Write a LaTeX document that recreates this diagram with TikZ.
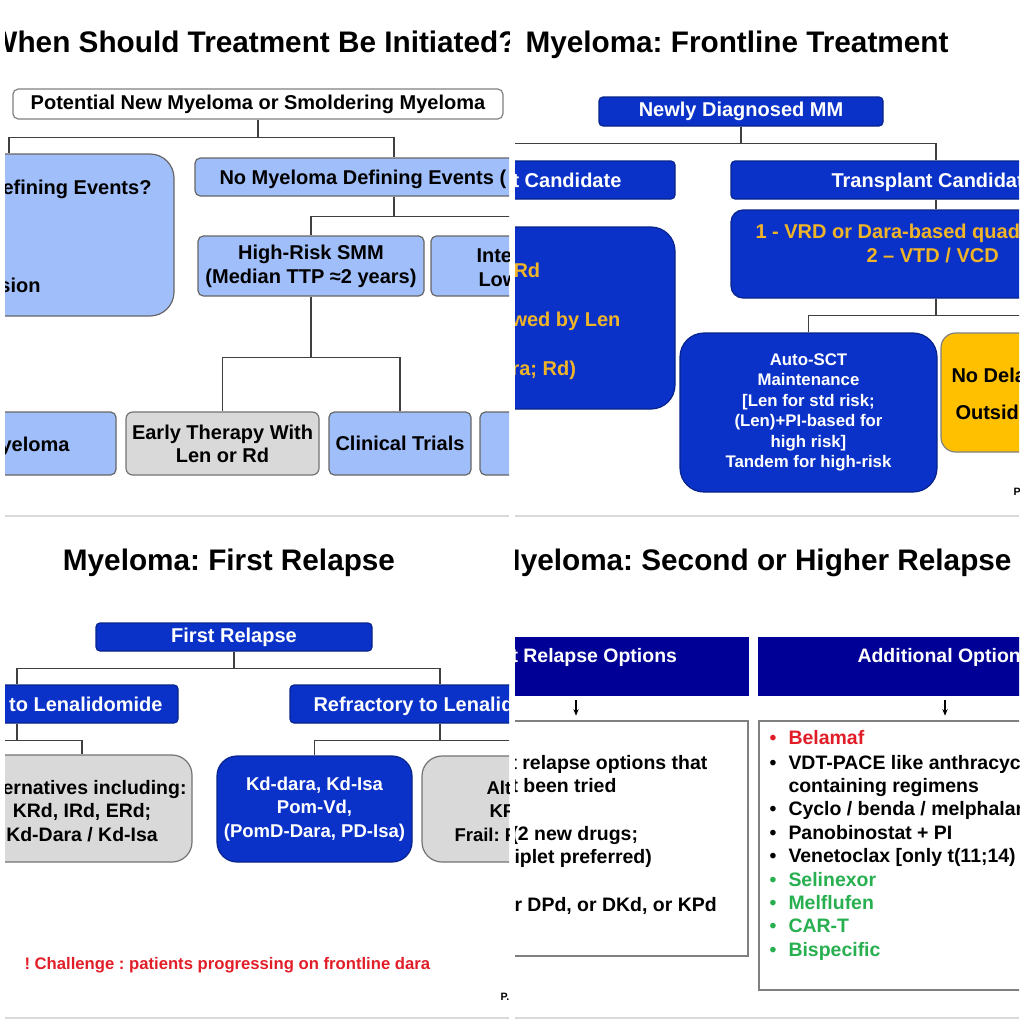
\documentclass[tikz,border=0pt]{standalone}
\usepackage{fontspec}
\setmainfont{Liberation Sans}
\usetikzlibrary{arrows.meta}
\frenchspacing

\definecolor{lblue}{RGB}{160,190,250}
\definecolor{dblue}{RGB}{10,50,200}
\definecolor{navy}{RGB}{0,0,150}
\definecolor{gold}{RGB}{240,180,40}
\definecolor{ambr}{RGB}{255,192,0}
\definecolor{lgray}{RGB}{217,217,217}
\definecolor{rd}{RGB}{225,30,40}
\definecolor{gr}{RGB}{40,175,80}

\tikzset{every picture/.style={line width=0.75pt}}
\tikzset{
  conn/.style={draw=black!75, line width=1.1pt},
  arrw/.style={draw=black, line width=0.9pt, -{Stealth[length=5pt,width=4pt]}, shorten <=3.5pt, shorten >=3.5pt},
  slidebox/.style={inner sep=0pt, line width=0.9pt, align=center, font=\fontsize{15}{18}\selectfont\bfseries},
  lbbox/.style={slidebox, fill=lblue, draw=black!60, rounded corners=4pt},
  dbbox/.style={slidebox, fill=dblue, draw=dblue!70!black, text=white, rounded corners=3pt},
  gybox/.style={slidebox, fill=lgray, draw=black!55, rounded corners=5pt},
  ambbox/.style={slidebox, fill=ambr, draw=black!50, rounded corners=11pt},
  wtbox/.style={slidebox, fill=white, draw=black!50},
  nvbox/.style={slidebox, fill=navy, draw=navy, text=white},
  txt/.style={inner sep=0pt, font=\fontsize{15}{18}\selectfont\bfseries},
  ttl/.style={inner sep=0pt, font=\fontsize{22.3}{26}\selectfont\bfseries},
  seam/.style={draw=black!15, line width=1.1pt},
}

\begin{document}
\begin{tikzpicture}[x=0.75pt,y=0.75pt,yscale=-1,xscale=1]
	\useasboundingbox (0,0) rectangle (1024,1024);

	%%%% top left slide
	\begin{scope}
	\clip (5,0) rectangle (509,512);
	% Text Node
	\node[ttl, anchor=base west] (ttla) at (-11,53) {When Should Treatment Be Initiated?};
	%Shape: Rectangle
	\node[wtbox, rounded corners=4pt, minimum width=367.5pt, minimum height=22.5pt] (pot) at (258,104) {Potential New Myeloma or Smoldering Myeloma};
	%Shape: Rounded Rect
	\node[lbbox, rounded corners=18pt, minimum width=247.5pt, minimum height=121.5pt] (mde) at (9,235) {};
	%Shape: Rounded Rect
	\node[lbbox, minimum width=298.5pt, minimum height=28.5pt] (nomde) at (394,177) {};
	%Shape: Rounded Rect
	\node[lbbox, minimum width=169.5pt, minimum height=45pt] (hrsmm) at (311,266) {High-Risk SMM\\(Median TTP ≈2 years)};
	%Shape: Rounded Rect
	\node[lbbox, minimum width=169.5pt, minimum height=45pt] (lrsmm) at (544,266) {};
	%Shape: Rounded Rect
	\node[lbbox, minimum width=162pt, minimum height=47.25pt] (actmm) at (8,443.5) {};
	%Shape: Rounded Rect
	\node[gybox, minimum width=144.75pt, minimum height=47.25pt, font=\fontsize{15}{17.3}\selectfont\bfseries] (early) at (222.5,443.5) {Early Therapy With\\Len or Rd};
	%Shape: Rounded Rect
	\node[lbbox, minimum width=106.5pt, minimum height=47.25pt] (trials) at (400,443.5) {Clinical Trials};
	%Shape: Rounded Rect
	\node[lbbox, minimum width=105pt, minimum height=47.25pt] (obs) at (550,443.5) {};

	%Straight Lines
	\draw[conn] (pot.south) -- ++(0,18) coordinate (ja) -| (mde.north);
	\draw[conn] (ja) -| (nomde.north);
	%Straight Lines
	\draw[conn] (nomde.south) -- ++(0,20) coordinate (jb) -| (hrsmm.north);
	\draw[conn] (jb) -| (lrsmm.north);
	%Straight Lines
	\draw[conn] (hrsmm.south) -- ++(0,61) coordinate (jc) -| (early.north);
	\draw[conn] (jc) -| (trials.north);

	% Text Node
	\node[txt, anchor=mid east] (mdea) at (152,191) {efining Events?};
	% Text Node
	\node[txt, anchor=mid east] (mdeb) at (41,289) {sion};
	% Text Node
	\node[txt, anchor=mid west] (nomdet) at (219,181) {No Myeloma Defining Events (};
	% Text Node
	\node[txt, anchor=mid west] (lrsmma) at (476,259) {Inte};
	% Text Node
	\node[txt, anchor=mid west] (lrsmmb) at (478,283) {Low};
	% Text Node
	\node[txt, anchor=mid east] (actmmt) at (70,448) {yeloma};
	\end{scope}

	%%%% top right slide
	\begin{scope}
	\clip (515,0) rectangle (1019,512);
	% Text Node
	\node[ttl, anchor=base west] (ttlb) at (525,53) {Myeloma: Frontline Treatment};
	%Shape: Rectangle
	\node[dbbox, minimum width=213pt, minimum height=21.75pt] (ndmm) at (741,111.5) {Newly Diagnosed MM};
	%Shape: Rectangle
	\node[dbbox, minimum width=307.5pt, minimum height=28.5pt] (ntc) at (470,180) {};
	%Shape: Rectangle
	\node[dbbox, minimum width=307.5pt, minimum height=28.5pt] (tc) at (936,180) {};
	%Shape: Rounded Rect
	\node[dbbox, rounded corners=18pt, minimum width=307.5pt, minimum height=136.5pt] (ntreg) at (470,318) {};
	%Shape: Rounded Rect
	\node[dbbox, rounded corners=9pt, minimum width=307.5pt, minimum height=66pt] (vrd) at (936,254) {};
	%Shape: Rounded Rect
	\node[dbbox, rounded corners=18pt, minimum width=192.75pt, minimum height=119.25pt, font=\fontsize{12.6}{15.3}\selectfont\bfseries] (asct) at (808.5,412.5) {Auto-SCT\\Maintenance\\{[}Len for std risk;\\(Len)+PI-based for\\high risk]\\Tandem for high-risk};
	%Shape: Rounded Rect
	\node[ambbox, minimum width=194.25pt, minimum height=89.25pt] (nodelay) at (1070.5,392.5) {};

	%Straight Lines
	\draw[conn] (ndmm.south) -- ++(0,17) coordinate (jd) -| (ntc.north);
	\draw[conn] (jd) -| (tc.north);
	%Straight Lines
	\draw[conn] (tc.south) -- (vrd.north);
	%Straight Lines
	\draw[conn] (vrd.south) -- ++(0,17) coordinate (je) -| (asct.north);
	\draw[conn] (je) -| (nodelay.north);

	% Text Node
	\node[txt, text=white, anchor=mid west] (ntct) at (512,184) {t Candidate};
	% Text Node
	\node[txt, text=white, anchor=mid west] (tct) at (831,184) {Transplant Candidat};
	% Text Node
	\node[txt, text=gold, anchor=mid west] (ntra) at (513,274) {Rd};
	% Text Node
	\node[txt, text=gold, anchor=mid west] (ntrb) at (511,323) {wed by Len};
	% Text Node
	\node[txt, text=gold, anchor=mid west] (ntrc) at (511,372) {ra; Rd)};
	% Text Node
	\node[txt, text=gold, anchor=mid west] (vrda) at (755,235) {1 - VRD or Dara-based quad};
	% Text Node
	\node[txt, text=gold, anchor=mid west] (vrdb) at (866,259) {2 – VTD / VCD};
	% Text Node
	\node[txt, anchor=mid west] (nda) at (951,379) {No Dela};
	% Text Node
	\node[txt, anchor=mid west] (ndb) at (955,416) {Outsid};
	% Text Node
	\node[txt, anchor=mid west, font=\fontsize{8}{9}\selectfont\bfseries] (pgb) at (1013,492) {P};
	\end{scope}

	%%%% bottom left slide
	\begin{scope}
	\clip (5,514) rectangle (509,1020);
	%Straight Lines
	\draw[seam] (5,516) -- (509,516);
	\draw[seam] (5,1018) -- (509,1018);
	% Text Node
	\node[ttl, anchor=base] (ttlc) at (229,570) {Myeloma: First Relapse};
	%Shape: Rectangle
	\node[dbbox, minimum width=207pt, minimum height=21pt] (frel) at (234,637) {First Relapse};
	%Shape: Rectangle
	\node[dbbox, minimum width=241.5pt, minimum height=28.5pt] (nlen) at (17,704) {};
	%Shape: Rectangle
	\node[dbbox, minimum width=225pt, minimum height=28.5pt] (rlen) at (440,704) {};
	%Shape: Rounded Rect
	\node[gybox, rounded corners=15pt, minimum width=165pt, minimum height=80.25pt] (altc) at (82,808.5) {};
	%Shape: Rounded Rect
	\node[dbbox, rounded corners=15pt, minimum width=146.25pt, minimum height=79.5pt, font=\fontsize{13.9}{17.6}\selectfont\bfseries] (kdd) at (314.5,809) {Kd-dara, Kd-Isa\\Pom-Vd,\\(PomD-Dara, PD-Isa)};
	%Shape: Rounded Rect
	\node[gybox, rounded corners=15pt, minimum width=214.5pt, minimum height=79.5pt] (altd) at (565,809) {};
	\coordinate (lfree) at (-120,755);

	%Straight Lines
	\draw[conn] (frel.south) -- ++(0,17) coordinate (jf) -| (nlen.north);
	\draw[conn] (jf) -| (rlen.north);
	%Straight Lines
	\draw[conn] (nlen.south) -- ++(0,17) coordinate (jg) -| (altc.north);
	\draw[conn] (jg) -| (lfree);
	%Straight Lines
	\draw[conn] (rlen.south) -- ++(0,17) coordinate (jh) -| (kdd.north);
	\draw[conn] (jh) -| (altd.north);

	% Text Node
	\node[txt, text=white, anchor=mid east] (nlent) at (163,708) {y to Lenalidomide};
	% Text Node
	\node[txt, text=white, anchor=mid west] (rlent) at (313,708) {Refractory to Lenalid};
	% Text Node
	\node[txt, anchor=mid east, font=\fontsize{14.6}{17}\selectfont\bfseries] (altca) at (187,791) {ernatives including:};
	% Text Node
	\node[txt, anchor=mid, font=\fontsize{14.6}{17}\selectfont\bfseries] (altcb) at (82,814) {KRd, IRd, ERd;};
	% Text Node
	\node[txt, anchor=mid, font=\fontsize{14.6}{17}\selectfont\bfseries] (altcc) at (82,838) {Kd-Dara / Kd-Isa};
	% Text Node
	\node[txt, anchor=mid west, font=\fontsize{13.9}{17}\selectfont\bfseries] (altda) at (486,791) {Alt};
	% Text Node
	\node[txt, anchor=mid west, font=\fontsize{13.9}{17}\selectfont\bfseries] (altdb) at (489,814) {KP};
	% Text Node
	\node[txt, anchor=mid west, font=\fontsize{13.9}{17}\selectfont\bfseries] (altdc) at (454,838) {Frail: P};
	% Text Node
	\node[txt, text=rd, anchor=mid west, font=\fontsize{12.5}{15}\selectfont\bfseries] (chal) at (24,966) {! Challenge : patients progressing on frontline dara};
	% Text Node
	\node[txt, anchor=mid west, font=\fontsize{8}{9}\selectfont\bfseries] (pgc) at (500,997) {P.};
	\end{scope}

	%%%% bottom right slide
	\begin{scope}
	\clip (515,514) rectangle (1019,1020);
	%Straight Lines
	\draw[seam] (515,516) -- (1019,516);
	\draw[seam] (515,1018) -- (1019,1018);
	% Text Node
	\node[ttl, anchor=base east] (ttld) at (1012,570) {Myeloma: Second or Higher Relapse};
	%Shape: Rectangle
	\node[nvbox, minimum width=258pt, minimum height=42.75pt] (ropt) at (576,666.5) {};
	%Shape: Rectangle
	\node[nvbox, minimum width=279pt, minimum height=42.75pt] (aopt) at (945,666.5) {};
	%Shape: Rectangle
	\node[wtbox, minimum width=258pt, minimum height=176.25pt] (rlist) at (576,838.5) {};
	%Shape: Rectangle
	\node[wtbox, minimum width=279pt, minimum height=201.75pt] (alist) at (945,855.5) {};

	%Straight Lines
	\draw[arrw] (ropt.south) -- (rlist.north);
	\draw[arrw] (aopt.south) -- (alist.north);

	% Text Node
	\node[txt, text=white, anchor=mid west, font=\fontsize{14.6}{17}\selectfont\bfseries] (roptt) at (511,659) {t Relapse Options};
	% Text Node
	\node[txt, text=white, anchor=mid west, font=\fontsize{14.6}{17}\selectfont\bfseries] (aoptt) at (857,659) {Additional Option};
	% Text Node
	\node[txt, anchor=mid west, font=\fontsize{14.6}{17}\selectfont\bfseries] (rla) at (510,766) {t relapse options that};
	% Text Node
	\node[txt, anchor=mid west, font=\fontsize{14.6}{17}\selectfont\bfseries] (rlb) at (511,789) {t been tried};
	% Text Node
	\node[txt, anchor=mid west, font=\fontsize{14.6}{17}\selectfont\bfseries] (rlc) at (511,837) {(2 new drugs;};
	% Text Node
	\node[txt, anchor=mid west, font=\fontsize{14.6}{17}\selectfont\bfseries] (rld) at (514,860) {iplet preferred)};
	% Text Node
	\node[txt, anchor=mid west, font=\fontsize{14.6}{17}\selectfont\bfseries] (rle) at (514,908) {r DPd, or DKd, or KPd};

	% Text Node
	\node[txt, text=rd, anchor=mid, font=\fontsize{14.6}{17}\selectfont\bfseries] (ba) at (773,741) {•};
	\node[txt, text=rd, anchor=mid west, font=\fontsize{14.6}{17}\selectfont\bfseries] (la) at (788,741) {Belamaf};
	% Text Node
	\node[txt, anchor=mid, font=\fontsize{14.6}{17}\selectfont\bfseries] (bb) at (773,766) {•};
	\node[txt, anchor=mid west, font=\fontsize{14.6}{17}\selectfont\bfseries] (lb) at (788,766) {VDT-PACE like anthracyc};
	% Text Node
	\node[txt, anchor=mid west, font=\fontsize{14.6}{17}\selectfont\bfseries] (lbb) at (788,789) {containing regimens};
	% Text Node
	\node[txt, anchor=mid, font=\fontsize{14.6}{17}\selectfont\bfseries] (bc) at (773,812) {•};
	\node[txt, anchor=mid west, font=\fontsize{14.6}{17}\selectfont\bfseries] (lc) at (788,812) {Cyclo / benda / melphalan};
	% Text Node
	\node[txt, anchor=mid, font=\fontsize{14.6}{17}\selectfont\bfseries] (bd) at (773,836) {•};
	\node[txt, anchor=mid west, font=\fontsize{14.6}{17}\selectfont\bfseries] (ld) at (788,836) {Panobinostat + PI};
	% Text Node
	\node[txt, anchor=mid, font=\fontsize{14.6}{17}\selectfont\bfseries] (be) at (773,859) {•};
	\node[txt, anchor=mid west, font=\fontsize{14.6}{17}\selectfont\bfseries] (le) at (788,859) {Venetoclax [only t(11;14)};
	% Text Node
	\node[txt, text=gr, anchor=mid, font=\fontsize{14.6}{17}\selectfont\bfseries] (bf) at (773,883) {•};
	\node[txt, text=gr, anchor=mid west, font=\fontsize{14.6}{17}\selectfont\bfseries] (lf) at (788,883) {Selinexor};
	% Text Node
	\node[txt, text=gr, anchor=mid, font=\fontsize{14.6}{17}\selectfont\bfseries] (bg) at (773,906) {•};
	\node[txt, text=gr, anchor=mid west, font=\fontsize{14.6}{17}\selectfont\bfseries] (lg) at (788,906) {Melflufen};
	% Text Node
	\node[txt, text=gr, anchor=mid, font=\fontsize{14.6}{17}\selectfont\bfseries] (bh) at (773,929) {•};
	\node[txt, text=gr, anchor=mid west, font=\fontsize{14.6}{17}\selectfont\bfseries] (lh) at (788,929) {CAR-T};
	% Text Node
	\node[txt, text=gr, anchor=mid, font=\fontsize{14.6}{17}\selectfont\bfseries] (bi) at (773,953) {•};
	\node[txt, text=gr, anchor=mid west, font=\fontsize{14.6}{17}\selectfont\bfseries] (li) at (788,953) {Bispecific};
	\end{scope}

\end{tikzpicture}
\end{document}
